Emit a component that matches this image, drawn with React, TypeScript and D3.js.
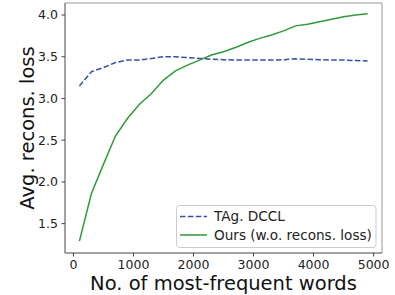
import React from "react";
import * as d3 from "d3";

const vocabSizes = [100, 300, 500, 700, 900, 1100, 1300, 1500, 1700, 1900, 2100, 2300, 2500,
  2700, 2900, 3100, 3300, 3500, 3700, 3900, 4100, 4300, 4500, 4700, 4900];
const dcclLoss = [3.15, 3.32, 3.37, 3.43, 3.46, 3.46, 3.48, 3.5, 3.5, 3.49, 3.48, 3.47, 3.465,
  3.46, 3.46, 3.46, 3.46, 3.465, 3.475, 3.47, 3.465, 3.46, 3.46, 3.455, 3.45];
const oursLoss = [1.29, 1.86, 2.21, 2.55, 2.76, 2.93, 3.06, 3.22, 3.33, 3.4, 3.46, 3.52, 3.56,
  3.61, 3.67, 3.72, 3.76, 3.81, 3.87, 3.89, 3.92, 3.95, 3.98, 4.0, 4.015];
const xTicks = [0, 1000, 2000, 3000, 4000, 5000];
const yTicks = [1.5, 2.0, 2.5, 3.0, 3.5, 4.0];
const seriesNames = ["TAg. DCCL", "Ours (w.o. recons. loss)"];

const W = 395, H = 295;
const left = 65, right = 382, top = 3, bottom = 253;
const font = "DejaVu Sans, sans-serif";

export default function App() {
  const x = d3.scaleLinear([-140, 5140], [left, right]);
  const y = d3.scaleLinear([1.148, 4.144], [bottom, top]);
  const line = d3.line<number>((d, i) => x(vocabSizes[i]), (d) => y(d));

  return (
    <svg width={W} height={H} style={{ position: "absolute", left: 0, top: 0 }}>
      <rect width={W} height={H} fill="#fff" />
      <path d={line(dcclLoss)!} fill="none" stroke="#3450a8" strokeWidth={1.5} strokeDasharray="5.5,2.4" />
      <path d={line(oursLoss)!} fill="none" stroke="#2e9a38" strokeWidth={1.5} />

      <line x1={left} x2={right} y1={top} y2={top} stroke="#999" />
      <line x1={right} x2={right} y1={top} y2={bottom} stroke="#999" />
      <line x1={left} x2={left} y1={top} y2={bottom} stroke="#444" />
      <line x1={left} x2={right} y1={bottom} y2={bottom} stroke="#444" />

      {xTicks.map((t) => (
        <g key={t} transform={`translate(${x(t)},${bottom})`}>
          <line y2={3.5} stroke="#444" />
          <text y={16} textAnchor="middle" fontSize={12.5} fontFamily={font} fill="#222">{t}</text>
        </g>
      ))}
      {yTicks.map((t) => (
        <g key={t} transform={`translate(${left},${y(t)})`}>
          <line x2={-3.5} stroke="#444" />
          <text x={-7} dy="0.35em" textAnchor="end" fontSize={12.5} fontFamily={font} fill="#222">{t.toFixed(1)}</text>
        </g>
      ))}

      <text x={(left + right) / 2} y={290} textAnchor="middle" fontSize={19.5} fontFamily={font} fill="#111">
        No. of most-frequent words
      </text>
      <text transform={`translate(34,${(top + bottom) / 2}) rotate(-90)`} textAnchor="middle" fontSize={19.5} fontFamily={font} fill="#111">
        Avg. recons. loss
      </text>

      <g>
        <rect x={176.5} y={205.5} width={199.5} height={42} rx={3} fill="#fff" fillOpacity={0.8} stroke="#ccc" />
        {seriesNames.map((name, i) => (
          <g key={name} transform={`translate(180,${216.5 + i * 18.5})`}>
            <line x2={27} stroke={i === 0 ? "#3450a8" : "#2e9a38"} strokeWidth={1.5}
              strokeDasharray={i === 0 ? "5.5,2.4" : undefined} />
            <text x={34} dy="0.35em" fontSize={13.6} fontFamily={font} fill="#222">{name}</text>
          </g>
        ))}
      </g>
    </svg>
  );
}
